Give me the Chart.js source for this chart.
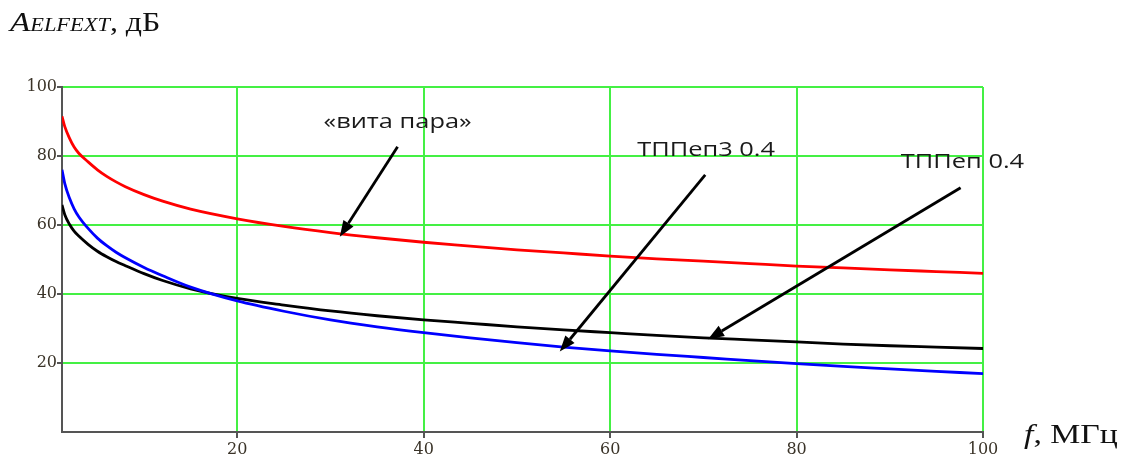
<!DOCTYPE html>
<html>
<head>
<meta charset="utf-8">
<script src="https://cdn.jsdelivr.net/npm/chart.js@4/dist/chart.umd.min.js"></script>
<style>
  body { margin: 0; background: #fff; }
  #wrap { width: 1124px; height: 461px; position: relative; }
</style>
</head>
<body>
<div id="wrap"><canvas id="myChart"></canvas></div>
<script>
// frequency, MHz
const freq = [1.2, 1.5, 2, 2.5, 3, 4, 5, 6, 7, 8, 10, 12, 15, 20, 25, 30, 35, 40, 45, 50, 55, 60, 65, 70, 75, 80, 85, 90, 95, 100];
// «вита пара»
const twistedPair = [91.5, 88.5, 85.2, 82.6, 80.8, 78.3, 76.0, 74.1, 72.5, 71.1, 68.8, 66.9, 64.6, 61.8, 59.6, 57.8, 56.3, 55.0, 53.9, 52.8, 51.9, 51.0, 50.2, 49.5, 48.8, 48.1, 47.6, 47.0, 46.5, 46.0];
// ТППеп3 0.4
const tppep3 = [76.0, 72.0, 67.8, 64.7, 62.4, 59.0, 56.2, 54.0, 52.1, 50.5, 47.7, 45.3, 42.0, 38.0, 35.0, 32.5, 30.5, 28.8, 27.3, 25.9, 24.6, 23.5, 22.5, 21.6, 20.7, 19.8, 19.0, 18.3, 17.6, 16.9];
// ТППеп 0.4
const tppep = [65.8, 63.0, 60.2, 58.2, 56.8, 54.4, 52.4, 50.8, 49.4, 48.2, 45.9, 43.9, 41.5, 38.7, 36.8, 35.1, 33.7, 32.5, 31.5, 30.5, 29.6, 28.8, 28.0, 27.3, 26.7, 26.1, 25.5, 25.0, 24.6, 24.2];

const xTicks = [20, 40, 60, 80, 100];
const yTicks = [20, 40, 60, 80, 100];

// labels with arrows, in data units: text centre, arrow tail, arrow tip
const notes = [
  { text: '«вита пара»', tx: 37.2, ty: 89.9, fx: 37.2, fy: 82.7, ax: 31.0, ay: 56.6 },
  { text: 'ТППеп3 0.4', tx: 70.3, ty: 81.7, fx: 70.2, fy: 74.5, ax: 54.6, ay: 23.3 },
  { text: 'ТППеп 0.4', tx: 97.8, ty: 78.2, fx: 97.6, fy: 70.8, ax: 70.5, ay: 26.9 }
];

function toPoints(ys) {
  return freq.map((f, i) => ({ x: f, y: ys[i] }));
}

// the source picture is a bit wider than tall, so text gets a horizontal stretch
function wideText(ctx, text, x, y, sx) {
  ctx.save();
  ctx.translate(x, y);
  ctx.scale(sx, 1);
  ctx.fillText(text, 0, 0);
  ctx.restore();
  return ctx.measureText(text).width * sx;
}

const annotate = {
  id: 'annotate',
  afterDraw(chart) {
    const ctx = chart.ctx;
    const xs = chart.scales.x, ys = chart.scales.y;
    ctx.save();
    notes.forEach(n => {
      const x1 = xs.getPixelForValue(n.fx), y1 = ys.getPixelForValue(n.fy);
      const x2 = xs.getPixelForValue(n.ax), y2 = ys.getPixelForValue(n.ay);
      const ang = Math.atan2(y2 - y1, x2 - x1);
      const hl = 16, hw = 6;
      const bx = x2 - hl * Math.cos(ang), by = y2 - hl * Math.sin(ang);
      ctx.strokeStyle = '#000';
      ctx.lineWidth = 2.8;
      ctx.beginPath();
      ctx.moveTo(x1, y1);
      ctx.lineTo(bx, by);
      ctx.stroke();
      ctx.fillStyle = '#000';
      ctx.beginPath();
      ctx.moveTo(x2, y2);
      ctx.lineTo(bx + hw * Math.sin(ang), by - hw * Math.cos(ang));
      ctx.lineTo(bx - hw * Math.sin(ang), by + hw * Math.cos(ang));
      ctx.closePath();
      ctx.fill();
      ctx.font = '20px "Open Sans", sans-serif';
      ctx.fillStyle = '#1a1a1a';
      ctx.textAlign = 'center';
      ctx.textBaseline = 'middle';
      wideText(ctx, n.text, xs.getPixelForValue(n.tx), ys.getPixelForValue(n.ty), 1.27);
    });
    // y axis title
    ctx.fillStyle = '#111';
    ctx.textAlign = 'left';
    ctx.textBaseline = 'alphabetic';
    let x = 10;
    ctx.font = 'italic 28px "Liberation Serif", serif';
    x += wideText(ctx, 'A', x, 31, 1.18);
    ctx.font = 'italic 19px "Liberation Serif", serif';
    x += wideText(ctx, 'ELFEXT', x, 31, 1.18);
    ctx.font = '27px "Liberation Serif", serif';
    wideText(ctx, ', дБ', x, 31, 1.18);
    // x axis title
    x = 1024;
    ctx.font = 'italic 27px "Liberation Serif", serif';
    x += wideText(ctx, 'f', x, 443, 1.25);
    ctx.font = '27px "Liberation Serif", serif';
    wideText(ctx, ', МГц', x, 443, 1.25);
    ctx.restore();
  }
};

const lineSet = (label, color, ys) => ({
  label: label,
  data: toPoints(ys),
  borderColor: color,
  borderWidth: 2.8,
  pointRadius: 0,
  cubicInterpolationMode: 'monotone',
  fill: false
});

const tickFont = { family: '"DejaVu Serif", serif', size: 16 };

const config = {
  type: 'line',
  data: {
    datasets: [
      lineSet('«вита пара»', '#ff0000', twistedPair),
      lineSet('ТППеп3 0.4', '#0000ff', tppep3),
      lineSet('ТППеп 0.4', '#000000', tppep)
    ]
  },
  options: {
    responsive: true,
    maintainAspectRatio: false,
    animation: false,
    layout: { padding: { top: 87, right: 141, left: 0, bottom: 0 } },
    plugins: { legend: { display: false }, tooltip: { enabled: false } },
    scales: {
      x: {
        type: 'linear',
        min: 1.2,
        max: 100,
        afterBuildTicks: s => { s.ticks = xTicks.map(v => ({ value: v })); },
        afterFit: s => { s.height = 29; },
        grid: { color: '#44f044', lineWidth: 2, tickColor: '#555', tickLength: 6 },
        border: { color: '#555', width: 2 },
        ticks: { color: '#3a3328', padding: 2, maxRotation: 0, font: tickFont }
      },
      y: {
        min: 0,
        max: 100,
        afterBuildTicks: s => { s.ticks = yTicks.map(v => ({ value: v })); },
        afterFit: s => { s.width = 62; },
        grid: { color: '#44f044', lineWidth: 2, tickColor: '#555', tickLength: 5 },
        border: { color: '#555', width: 2 },
        ticks: { color: '#3a3328', padding: 0, font: tickFont }
      }
    }
  },
  plugins: [annotate]
};

const ctx = document.getElementById('myChart').getContext('2d');
const myChart = new Chart(ctx, config);
</script>
</body>
</html>
